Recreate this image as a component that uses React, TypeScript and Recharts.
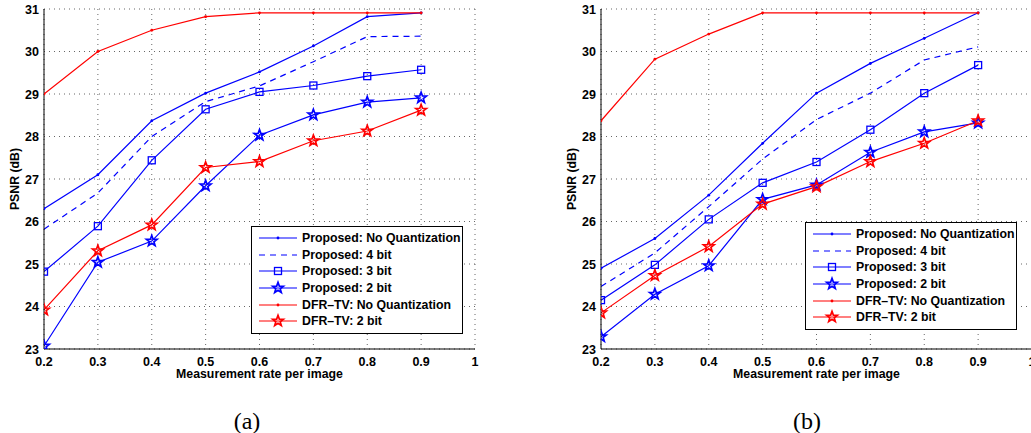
import React from "react"
import { LineChart, Line, XAxis, YAxis, CartesianGrid } from "recharts"

// measurement rates (x)
const rates = [0.2, 0.3, 0.4, 0.5, 0.6, 0.7, 0.8, 0.9]
const xTicks = [0.2, 0.3, 0.4, 0.5, 0.6, 0.7, 0.8, 0.9, 1]
const yTicks = [23, 24, 25, 26, 27, 28, 29, 30, 31]

// (a)
const propNoQuantA = [26.3, 27.1, 28.37, 29.02, 29.52, 30.13, 30.82, 30.91]
const prop4bitA = [25.82, 26.67, 28.0, 28.82, 29.19, 29.76, 30.35, 30.36]
const prop3bitA = [24.82, 25.89, 27.44, 28.64, 29.05, 29.2, 29.42, 29.57]
const prop2bitA = [23.07, 25.04, 25.54, 26.84, 28.03, 28.51, 28.81, 28.91]
const dfrNoQuantA = [29.0, 30.0, 30.5, 30.82, 30.91, 30.91, 30.91, 30.91]
const dfr2bitA = [23.92, 25.31, 25.92, 27.27, 27.41, 27.9, 28.13, 28.62]

// (b)
const propNoQuantB = [24.9, 25.6, 26.62, 27.84, 29.02, 29.72, 30.31, 30.91]
const prop4bitB = [24.47, 25.26, 26.35, 27.47, 28.4, 29.02, 29.8, 30.11]
const prop3bitB = [24.15, 24.98, 26.05, 26.91, 27.4, 28.16, 29.02, 29.68]
const prop2bitB = [23.29, 24.29, 24.96, 26.52, 26.86, 27.63, 28.11, 28.32]
const dfrNoQuantB = [28.37, 29.82, 30.41, 30.91, 30.91, 30.91, 30.91, 30.91]
const dfr2bitB = [23.85, 24.73, 25.41, 26.41, 26.82, 27.41, 27.84, 28.37]

const seriesNames = [
  "Proposed: No Quantization",
  "Proposed: 4 bit",
  "Proposed: 3 bit",
  "Proposed: 2 bit",
  "DFR\u2013TV: No Quantization",
  "DFR\u2013TV: 2 bit",
]

const BLUE = "#0000ff"
const RED = "#ff0000"
const FONT = "Liberation Sans, Arial, Helvetica, sans-serif"

const styles = [
  { key: "pNQ", color: BLUE, dash: undefined, marker: "dot" },
  { key: "p4", color: BLUE, dash: "6 5", marker: "none" },
  { key: "p3", color: BLUE, dash: undefined, marker: "square" },
  { key: "p2", color: BLUE, dash: undefined, marker: "star" },
  { key: "dNQ", color: RED, dash: undefined, marker: "dot" },
  { key: "d2", color: RED, dash: undefined, marker: "star" },
]

function buildRows(cols: number[][]) {
  return rates.map((r, i) => {
    const row: any = { rate: r }
    styles.forEach((s, j) => (row[s.key] = cols[j][i]))
    return row
  })
}

const dataA = buildRows([propNoQuantA, prop4bitA, prop3bitA, prop2bitA, dfrNoQuantA, dfr2bitA])
const dataB = buildRows([propNoQuantB, prop4bitB, prop3bitB, prop2bitB, dfrNoQuantB, dfr2bitB])

function starPath(cx: number, cy: number, R: number, r: number) {
  let d = ""
  for (let i = 0; i < 10; i++) {
    const rad = i % 2 === 0 ? R : r
    const a = -Math.PI / 2 + (i * Math.PI) / 5
    d += (i === 0 ? "M" : "L") + (cx + rad * Math.cos(a)).toFixed(2) + "," + (cy + rad * Math.sin(a)).toFixed(2)
  }
  return d + "Z"
}

function Marker({ kind, cx, cy, color }: { kind: string; cx: number; cy: number; color: string }) {
  if (kind === "dot") return <circle cx={cx} cy={cy} r={1.4} fill={color} />
  if (kind === "square")
    return <rect x={cx - 3.5} y={cy - 3.5} width={7} height={7} fill="none" stroke={color} strokeWidth={1.3} />
  if (kind === "star")
    return <path d={starPath(cx, cy, 5.6, 2.3)} fill="none" stroke={color} strokeWidth={1.7} />
  return null
}

function makeDot(kind: string, color: string) {
  if (kind === "none") return false
  return (p: any) => (
    <g key={"m" + p.index}>
      <Marker kind={kind} cx={p.cx} cy={p.cy} color={color} />
    </g>
  )
}

const txt = { fontFamily: FONT, fontSize: 12.5, fontWeight: 700, fill: "#000" }

const XTick = (p: any) => (
  <text x={p.x} y={p.y} dy="0.71em" textAnchor="middle" style={txt}>
    {String(p.payload.value)}
  </text>
)

const YTick = (p: any) => (
  <text x={p.x} y={p.y} dy="0.36em" textAnchor="end" style={txt}>
    {String(p.payload.value)}
  </text>
)

const XTitle = (p: any) => {
  const vb = p.viewBox
  return (
    <text x={vb.x + vb.width / 2} y={vb.y + 29} textAnchor="middle" style={{ ...txt, fontSize: 12.3 }}>
      Measurement rate per image
    </text>
  )
}

const YTitle = (p: any) => {
  const vb = p.viewBox
  const cy = vb.y + vb.height / 2
  return (
    <text x={19} y={cy} transform={`rotate(-90 19 ${cy})`} textAnchor="middle" style={{ ...txt, fontSize: 12.3 }}>
      PSNR (dB)
    </text>
  )
}

function LegendBox({ left, top }: { left: number; top: number }) {
  return (
    <div
      style={{
        position: "absolute",
        left,
        top,
        width: 210,
        height: 103,
        border: "1px solid #000",
        background: "#fff",
        paddingTop: 3,
        boxSizing: "content-box",
      }}
    >
      {styles.map((s, i) => (
        <div key={s.key} style={{ display: "flex", alignItems: "center", height: 16.6 }}>
          <svg width={50} height={16} style={{ flex: "none" }}>
            <line x1={7} x2={45} y1={8} y2={8} stroke={s.color} strokeWidth={1.2} strokeDasharray={s.dash} />
            <Marker kind={s.marker} cx={26} cy={8} color={s.color} />
          </svg>
          <span style={{ fontFamily: FONT, fontSize: 12.3, fontWeight: 700, color: "#000", whiteSpace: "nowrap" }}>
            {seriesNames[i]}
          </span>
        </div>
      ))}
    </div>
  )
}

function Panel({ data, left, legendLeft, legendTop }: { data: any[]; left: number; legendLeft: number; legendTop: number }) {
  return (
    <div style={{ position: "absolute", left, top: 0, width: 500, height: 400 }}>
      <LineChart width={500} height={400} data={data} margin={{ top: 9, right: 25, left: 0, bottom: 0 }}>
        <CartesianGrid stroke="#666" strokeDasharray="1 4" />
        <XAxis
          dataKey="rate"
          type="number"
          domain={[0.2, 1]}
          ticks={xTicks}
          interval={0}
          allowDataOverflow
          height={51}
          stroke="#000"
          tickLine={false}
          tickSize={4}
          tickMargin={4}
          tick={XTick}
          label={<XTitle />}
        />
        <XAxis xAxisId="top" orientation="top" dataKey="rate" type="number" domain={[0.2, 1]} height={0} tick={false} tickLine={false} stroke="#000" />
        <YAxis
          type="number"
          domain={[23, 31]}
          ticks={yTicks}
          interval={0}
          allowDataOverflow
          width={44}
          stroke="#000"
          tickLine={false}
          tickSize={2}
          tickMargin={3}
          tick={YTick}
          label={<YTitle />}
        />
        <YAxis yAxisId="right" orientation="right" domain={[23, 31]} width={0} tick={false} tickLine={false} stroke="#000" />
        {styles.map((s, i) => (
          <Line
            key={s.key}
            dataKey={s.key}
            name={seriesNames[i]}
            type="linear"
            stroke={s.color}
            strokeWidth={1.2}
            strokeDasharray={s.dash}
            dot={makeDot(s.marker, s.color)}
            activeDot={false}
            isAnimationActive={false}
          />
        ))}
      </LineChart>
      <LegendBox left={legendLeft} top={legendTop} />
    </div>
  )
}

export default function App() {
  const cap = {
    position: "absolute" as const,
    top: 405,
    width: 60,
    textAlign: "center" as const,
    fontFamily: "Liberation Serif, Times New Roman, serif",
    fontSize: 24,
    lineHeight: "32px",
    color: "#000",
  }
  return (
    <div style={{ position: "absolute", left: 0, top: 0, width: 1031, height: 433, overflow: "hidden", background: "#fff" }}>
      <Panel data={dataA} left={0} legendLeft={251} legendTop={226} />
      <Panel data={dataB} left={557} legendLeft={248} legendTop={222} />
      <div style={{ ...cap, left: 217 }}>(a)</div>
      <div style={{ ...cap, left: 777 }}>(b)</div>
    </div>
  )
}
